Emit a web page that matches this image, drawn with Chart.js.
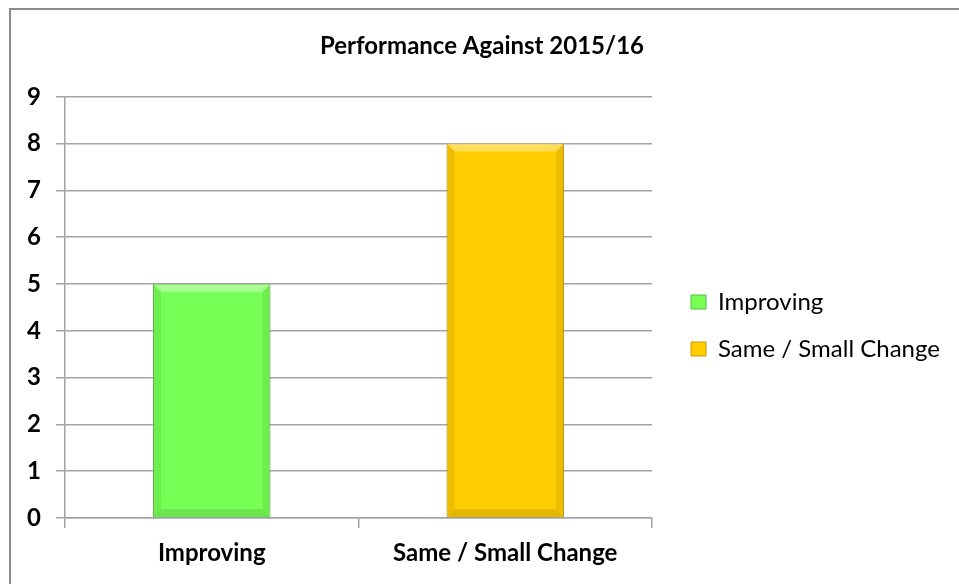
<!DOCTYPE html>
<html>
<head>
<meta charset="utf-8">
<script src="https://cdn.jsdelivr.net/npm/chart.js@4/dist/chart.umd.min.js"></script>
<style>
  html, body { margin: 0; padding: 0; background: #fff; }
  #wrap { width: 959px; height: 584px; }
</style>
</head>
<body>
<div id="wrap"><canvas id="myChart" width="959" height="584"></canvas></div>
<script>
const categories = ["Improving", "Same / Small Change"];
const counts = [5, 8];
const barColors = ["#77ff55", "#ffcc00"];
const edgeColors = ["#4fc23a", "#c99a00"];
const yMax = 9;
const chartTitle = "Performance Against 2015/16";

const gridGrey = "#a3a3a3";
const fontFamily = "Lato, 'Open Sans', sans-serif";

// grey frame on the top and left edge, like the clipped excel picture
const framePlugin = {
  id: "frame",
  beforeDraw(chart) {
    const c = chart.ctx;
    c.save();
    c.fillStyle = "#fff";
    c.fillRect(0, 0, chart.width, chart.height);
    c.strokeStyle = "#8c8c8c";
    c.lineWidth = 2;
    c.beginPath();
    c.moveTo(10, chart.height);
    c.lineTo(10, 9);
    c.lineTo(chart.width, 9);
    c.stroke();
    c.restore();
  }
};

// soft bevel on every bar, read from the bar elements
const bevelPlugin = {
  id: "bevel",
  afterDatasetsDraw(chart) {
    const c = chart.ctx;
    const meta = chart.getDatasetMeta(0);
    meta.data.forEach(function (bar) {
      const l = bar.x - bar.width / 2;
      const r = bar.x + bar.width / 2;
      const t = bar.y;
      const b = bar.base;
      const e = 8;
      c.save();
      c.fillStyle = "rgba(255,255,255,0.35)";
      c.beginPath();
      c.moveTo(l, t); c.lineTo(r, t); c.lineTo(r - e, t + e); c.lineTo(l + e, t + e);
      c.fill();
      c.fillStyle = "rgba(0,0,0,0.07)";
      c.beginPath();
      c.moveTo(l, t); c.lineTo(l + e, t + e); c.lineTo(l + e, b - e); c.lineTo(l, b);
      c.fill();
      c.beginPath();
      c.moveTo(r, t); c.lineTo(r - e, t + e); c.lineTo(r - e, b - e); c.lineTo(r, b);
      c.fill();
      c.fillStyle = "rgba(0,0,0,0.1)";
      c.beginPath();
      c.moveTo(l, b); c.lineTo(l + e, b - e); c.lineTo(r - e, b - e); c.lineTo(r, b);
      c.fill();
      c.restore();
    });
  }
};

var ctx = document.getElementById("myChart").getContext("2d");
var myChart = new Chart(ctx, {
  type: "bar",
  data: {
    labels: categories,
    datasets: [
      {
        label: chartTitle,
        data: counts,
        backgroundColor: barColors,
        borderColor: edgeColors,
        borderWidth: 1,
        categoryPercentage: 1,
        barPercentage: 0.4
      }
    ]
  },
  options: {
    responsive: false,
    animation: false,
    events: [],
    layout: {
      padding: { left: 25, right: 20, top: 0, bottom: 10 }
    },
    scales: {
      x: {
        grid: {
          drawOnChartArea: false,
          drawTicks: true,
          tickLength: 10,
          color: gridGrey,
          lineWidth: 1.5
        },
        border: { color: gridGrey, width: 1.5 },
        ticks: {
          color: "#000",
          padding: 11,
          font: { family: fontFamily, size: 24, weight: "bold" }
        },
        afterFit: function (scale) { scale.height = 56; }
      },
      y: {
        min: 0,
        max: yMax,
        ticks: {
          stepSize: 1,
          color: "#000",
          padding: 15,
          font: { family: fontFamily, size: 24, weight: "bold" }
        },
        grid: { color: gridGrey, lineWidth: 1.5, tickLength: 9 },
        border: { color: gridGrey, width: 1.5 },
        afterFit: function (scale) { scale.width = 40; }
      },
      gap: {
        type: "linear",
        position: "right",
        grid: { display: false },
        ticks: { display: false },
        border: { display: false },
        afterFit: function (scale) { scale.width = 16; }
      }
    },
    plugins: {
      title: {
        display: true,
        text: chartTitle,
        color: "#000",
        font: { family: fontFamily, size: 24, weight: "bold" },
        padding: { top: 32, bottom: 36 }
      },
      legend: {
        position: "right",
        align: "center",
        maxWidth: 271,
        title: {
          display: true,
          text: "",
          font: { size: 10 },
          padding: { top: 65, bottom: 0 }
        },
        labels: {
          boxWidth: 15,
          boxHeight: 14,
          padding: 23,
          color: "#000",
          font: { family: fontFamily, size: 24 },
          generateLabels: function () {
            return categories.map(function (name, i) {
              return {
                text: name,
                fillStyle: barColors[i],
                strokeStyle: edgeColors[i],
                fontColor: "#000",
                lineWidth: 1,
                hidden: false,
                index: i
              };
            });
          }
        }
      },
      tooltip: { enabled: false }
    }
  },
  plugins: [framePlugin, bevelPlugin]
});
</script>
</body>
</html>
